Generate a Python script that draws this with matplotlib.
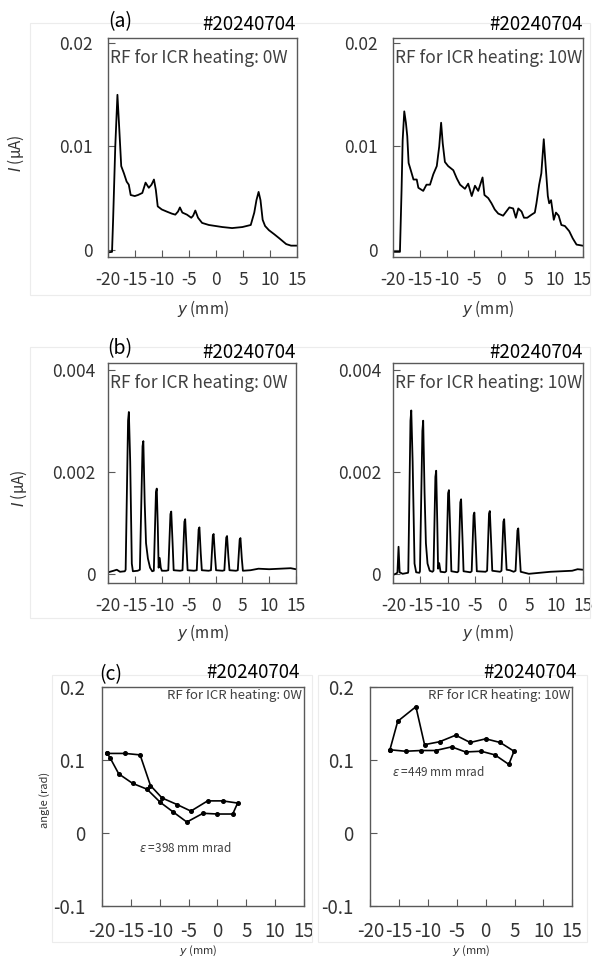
import numpy as np
import matplotlib
matplotlib.use('Agg')
import matplotlib.pyplot as plt
from matplotlib.patches import Rectangle

plt.rcParams['font.family'] = ['Noto Sans CJK JP', 'DejaVu Sans']
plt.rcParams['axes.unicode_minus'] = False

# =============================================================================
# data
# =============================================================================
shot = "#20240704"
rf_labels = ["RF for ICR heating: 0W", "RF for ICR heating: 10W"]
eps_labels = [r"$\varepsilon$ =398 mm mrad", r"$\varepsilon$ =449 mm mrad"]

x_ticks = [-20, -15, -10, -5, 0, 5, 10, 15]
x_ticklabels = ["-20", "-15", "-10", "-5", "0", "5", "10", "15"]

# (a) beam current profile, RF 0W
y_a0 = [-20.0, -19.2, -19.0, -18.6, -18.2, -17.85, -17.5, -17.0, -16.5, -16.1, -15.75,
        -15.0, -14.4, -13.6, -13.0, -12.4, -11.9, -11.45, -11.1, -10.75, -10.0, -9.1,
        -8.15, -7.5, -7.0, -6.65, -6.2, -5.35, -4.55, -4.2, -3.8, -3.3, -2.55, -1.3,
        -0.05, 1.2, 3.0, 4.9, 6.45, 7.1, 7.5, 7.9, 8.25, 8.65, 9.1, 9.8, 10.8, 11.75,
        13.0, 13.9, 15.0]
i_a0 = [-0.00026, -0.0002, 0.0029, 0.0100, 0.0150, 0.0116, 0.0081, 0.0074, 0.0066, 0.0063,
        0.0053, 0.0052, 0.0053, 0.0055, 0.0065, 0.0060, 0.0063, 0.0068, 0.0058, 0.0042,
        0.0039, 0.0037, 0.0035, 0.0034, 0.0037, 0.0041, 0.0036, 0.0034, 0.0031, 0.0033,
        0.0038, 0.0031, 0.0026, 0.0024, 0.0023, 0.0022, 0.0021, 0.0022, 0.0024, 0.0036,
        0.0048, 0.0056, 0.0048, 0.0029, 0.0023, 0.0019, 0.0015, 0.0011, 0.00055, 0.0004,
        0.0004]

# (a) beam current profile, RF 10W
y_a1 = [-19.9, -18.7, -18.4, -18.2, -17.9, -17.6, -17.35, -17.1, -16.7, -16.2, -15.6,
        -15.3, -14.4, -13.8, -13.15, -12.55, -11.9, -11.45, -11.1, -10.8, -10.4, -9.8,
        -8.85, -8.2, -7.6, -6.7, -6.1, -5.45, -4.85, -4.25, -3.45, -3.1, -2.4, -1.8,
        -1.2, -0.55, 0.35, 1.5, 2.2, 2.7, 3.15, 3.75, 4.2, 4.8, 5.6, 6.2, 6.5, 7.0, 7.4,
        7.85, 8.2, 8.6, 8.85, 9.2, 9.7, 10.1, 10.6, 11.1, 11.75, 12.55, 13.2, 13.9, 15.0]
i_a1 = [-0.0002, -0.0002, 0.0058, 0.0106, 0.0134, 0.0123, 0.0110, 0.0084, 0.0077, 0.0068,
        0.0068, 0.0060, 0.0057, 0.0063, 0.0063, 0.0073, 0.0081, 0.0100, 0.0123, 0.0103,
        0.0085, 0.0081, 0.0077, 0.0069, 0.0063, 0.0059, 0.0064, 0.0052, 0.0062, 0.0057,
        0.0070, 0.0053, 0.0050, 0.0045, 0.0039, 0.0035, 0.0033, 0.0041, 0.0040, 0.0031,
        0.0040, 0.0037, 0.0031, 0.0031, 0.0034, 0.0036, 0.0045, 0.0063, 0.0074, 0.0107,
        0.0081, 0.0052, 0.0045, 0.0048, 0.0029, 0.0036, 0.0033, 0.0024, 0.0023, 0.0018,
        0.0011, 0.0005, 0.0004]

# (b) profile through multi-slit, RF 0W
y_b0 = [-20.0, -19.0, -18.4, -17.8, -16.9,
        -16.75, -16.3, -16.15, -15.9, -15.6, -15.4, -14.5,
        -14.1, -13.6, -13.45, -13.2, -12.95, -12.6, -12.2, -11.8,
        -11.5, -11.1, -10.95, -10.75, -10.6, -10.4, -10.2, -10.0, -9.2,
        -8.8, -8.4, -8.25, -8.0, -7.8, -6.6,
        -6.15, -5.8, -5.65, -5.4, -5.2, -4.0,
        -3.5, -3.15, -3.0, -2.75, -2.55, -1.3,
        -0.85, -0.5, -0.35, -0.1, 0.1, 1.3,
        1.65, 2.0, 2.15, 2.4, 2.6, 3.8,
        4.15, 4.5, 4.65, 4.9, 5.1, 6.5, 8.0, 10.0, 12.0, 14.0, 15.0]
i_b0 = [0.00003, 0.00006, 0.00008, 0.00004, 0.00005,
        0.00008, 0.0030, 0.00317, 0.0022, 0.0002, 0.00005, 0.00006,
        0.00008, 0.0025, 0.0026, 0.0014, 0.0006, 0.0003, 0.00012, 0.00005,
        0.00006, 0.0016, 0.00167, 0.0009, 0.00012, 0.00031, 0.00012, 0.00006, 0.00006,
        0.00007, 0.00117, 0.00122, 0.0006, 0.00007, 0.00006,
        0.00007, 0.00102, 0.00107, 0.0005, 0.00007, 0.00006,
        0.00007, 0.00087, 0.00091, 0.0004, 0.00007, 0.00006,
        0.00007, 0.00075, 0.00078, 0.00035, 0.00007, 0.00006,
        0.00007, 0.00071, 0.00074, 0.00033, 0.00007, 0.00006,
        0.00007, 0.00067, 0.0007, 0.0003, 0.00006, 0.00007, 0.0001, 0.00009, 0.0001,
        0.00011, 0.00009]

# (b) profile through multi-slit, RF 10W
y_b1 = [-20.0, -19.4, -19.25, -19.05, -18.85, -18.3, -17.3,
        -17.25, -16.85, -16.7, -16.45, -16.1, -15.8, -15.2,
        -15.1, -14.65, -14.5, -14.25, -14.0, -13.7, -13.3, -12.8,
        -12.6, -12.25, -12.1, -11.9, -11.75, -11.55, -11.3, -10.5,
        -10.25, -9.9, -9.75, -9.5, -9.3, -8.2,
        -8.0, -7.65, -7.5, -7.25, -7.05, -5.8,
        -5.55, -5.2, -5.05, -4.8, -4.6, -3.0,
        -2.7, -2.35, -2.2, -1.95, -1.75, -0.3,
        -0.05, 0.3, 0.45, 0.7, 0.9, 1.5, 2.2,
        2.55, 2.9, 3.05, 3.3, 3.5, 5.0, 7.0, 9.0, 11.0, 13.0, 14.0, 15.0]
i_b1 = [-0.00002, 0.00001, 0.00003, 0.00053, 0.00003, 0.0, 0.00002,
        0.00005, 0.0030, 0.0032, 0.0022, 0.0002, 0.00003, 0.00002,
        0.00005, 0.0028, 0.0030, 0.0016, 0.0006, 0.0002, 0.00006, 0.00004,
        0.00006, 0.0019, 0.00202, 0.0010, 0.0001, 0.00021, 0.00004, 0.00003,
        0.00005, 0.00158, 0.00164, 0.0008, 0.00005, 0.00003,
        0.00005, 0.0014, 0.00146, 0.0007, 0.00005, 0.00003,
        0.00005, 0.00115, 0.0012, 0.0006, 0.00005, 0.00004,
        0.00006, 0.00118, 0.00123, 0.0006, 0.00006, 0.00004,
        0.00006, 0.00102, 0.00107, 0.0005, 0.00008, 0.00007, 0.00004,
        0.00006, 0.00085, 0.00089, 0.0004, 0.00004, 0.0, 0.00002, 0.00004, 0.00005,
        0.00006, 0.00009, 0.00008]

# (c) phase-space contour (closed loop), RF 0W
y_c0 = [-19.1, -16.0, -13.4, -11.6, -9.6, -7.0, -4.6, -1.7, 0.9, 3.5, 2.65, 0.0, -2.5,
        -5.3, -7.7, -9.9, -12.2, -14.7, -17.1, -18.6, -19.1]
ang_c0 = [0.109, 0.109, 0.107, 0.065, 0.048, 0.039, 0.030, 0.044, 0.044, 0.041, 0.026,
          0.026, 0.027, 0.015, 0.029, 0.042, 0.060, 0.068, 0.081, 0.103, 0.109]

# (c) phase-space contour (closed loop), RF 10W
y_c1 = [-16.6, -15.25, -12.1, -10.6, -8.0, -5.2, -2.7, 0.0, 2.5, 4.9, 4.0, 1.6, -0.8,
        -3.5, -5.9, -8.7, -11.2, -13.9, -16.6]
ang_c1 = [0.114, 0.153, 0.173, 0.121, 0.125, 0.134, 0.124, 0.129, 0.124, 0.112, 0.094,
          0.107, 0.112, 0.111, 0.118, 0.113, 0.113, 0.112, 0.114]

# =============================================================================
# layout helpers (pixel boxes)
# =============================================================================
W, H = 594, 957
fig = plt.figure(figsize=(W / 100, H / 100), dpi=100)

def box(x0, y0, x1, y1):
    return [x0 / W, 1 - y1 / H, (x1 - x0) / W, (y1 - y0) / H]

def ftext(x, y, s, **kw):
    return fig.text(x / W, 1 - y / H, s, **kw)

frame = '#595959'
label_col = '#333333'

def style(ax, ylim, yticks, yticklabels, size, xpad, ypad):
    ax.set_xlim(-20, 15)
    ax.set_ylim(*ylim)
    ax.set_xticks(x_ticks, x_ticklabels)
    ax.set_yticks(yticks, yticklabels)
    ax.tick_params(direction='in', length=5, width=0.8, color=frame,
                   labelsize=size, labelcolor=label_col)
    ax.tick_params(axis='x', pad=xpad)
    ax.tick_params(axis='y', pad=ypad)
    for sp in ax.spines.values():
        sp.set_color(frame)
        sp.set_linewidth(1.0)

# faint chart-area borders
for (x0, y0, x1, y1) in [(30, 23, 590, 295), (30, 347, 590, 618),
                         (52, 675, 312, 942), (318, 675, 587, 942)]:
    fig.add_artist(Rectangle((x0 / W, 1 - y1 / H), (x1 - x0) / W, (y1 - y0) / H,
                             transform=fig.transFigure, fill=False,
                             edgecolor='#ececec', lw=0.8))

# =============================================================================
# (a)
# =============================================================================
ax_a0 = fig.add_axes(box(107.7, 38, 297, 257))
ax_a1 = fig.add_axes(box(392.9, 38, 582.5, 257))
ax_a0.plot(y_a0, i_a0, color='black', lw=1.3)
ax_a1.plot(y_a1, i_a1, color='black', lw=1.3)
for ax in (ax_a0, ax_a1):
    style(ax, (-0.0007, 0.0205), [0, 0.01, 0.02], ["0", "0.01", "0.02"], 12.5, 10, 11)

# =============================================================================
# (b)
# =============================================================================
ax_b0 = fig.add_axes(box(108.2, 363, 296, 583))
ax_b1 = fig.add_axes(box(393.4, 363, 583, 583))
ax_b0.plot(y_b0, i_b0, color='black', lw=1.3)
ax_b1.plot(y_b1, i_b1, color='black', lw=1.3)
for ax in (ax_b0, ax_b1):
    style(ax, (-0.00018, 0.00413), [0, 0.002, 0.004], ["0", "0.002", "0.004"], 12.5, 10, 9)

# =============================================================================
# (c)
# =============================================================================
ax_c0 = fig.add_axes(box(102, 687, 304, 906))
ax_c1 = fig.add_axes(box(370.3, 687, 572.3, 906))
ax_c0.plot(y_c0, ang_c0, color='black', lw=1.2, marker='o', ms=2.6)
ax_c1.plot(y_c1, ang_c1, color='black', lw=1.2, marker='o', ms=2.6)
for ax in (ax_c0, ax_c1):
    style(ax, (-0.1, 0.2), [-0.1, 0, 0.1, 0.2], ["-0.1", "0", "0.1", "0.2"], 13.5, 11, 12)

# =============================================================================
# texts
# =============================================================================
ftext(120, 22, "(a)", fontsize=14, ha='center', va='center')
ftext(120, 349, "(b)", fontsize=14, ha='center', va='center')
ftext(111, 675, "(c)", fontsize=14, ha='center', va='center')

for (x, y) in [(296, 24), (583, 24), (296, 353), (583, 353), (300, 672), (577, 672)]:
    ftext(x, y, shot, fontsize=13.5, ha='right', va='center', color='black')

rf_col = '#404040'
ftext(110, 58, rf_labels[0], fontsize=12.5, ha='left', va='center', color=rf_col)
ftext(395, 58, rf_labels[1], fontsize=12.5, ha='left', va='center', color=rf_col)
ftext(110, 383, rf_labels[0], fontsize=12.5, ha='left', va='center', color=rf_col)
ftext(395, 383, rf_labels[1], fontsize=12.5, ha='left', va='center', color=rf_col)
ftext(302, 696, rf_labels[0], fontsize=9.5, ha='right', va='center', color=rf_col)
ftext(570, 696, rf_labels[1], fontsize=9.5, ha='right', va='center', color=rf_col)

ftext(185, 848, eps_labels[0], fontsize=8.5, ha='center', va='center', color=rf_col)
ftext(438, 772, eps_labels[1], fontsize=8.5, ha='center', va='center', color=rf_col)

ylab = r"$I$ (μA)"
ftext(16, 153, ylab, fontsize=11, rotation=90, ha='center', va='center', color=label_col)
ftext(19, 488, ylab, fontsize=11, rotation=90, ha='center', va='center', color=label_col)
ftext(45, 800, "angle (rad)", fontsize=8, rotation=90, ha='center', va='center',
      color=label_col)

xlab = r"$y$ (mm)"
for (x, y) in [(203, 309), (488, 309), (203, 633), (488, 633)]:
    ftext(x, y, xlab, fontsize=11, ha='center', va='center', color=label_col)
for (x, y) in [(198, 951), (471, 951)]:
    ftext(x, y, xlab, fontsize=8, ha='center', va='center', color=label_col)

fig.savefig('out.png', dpi=100)
